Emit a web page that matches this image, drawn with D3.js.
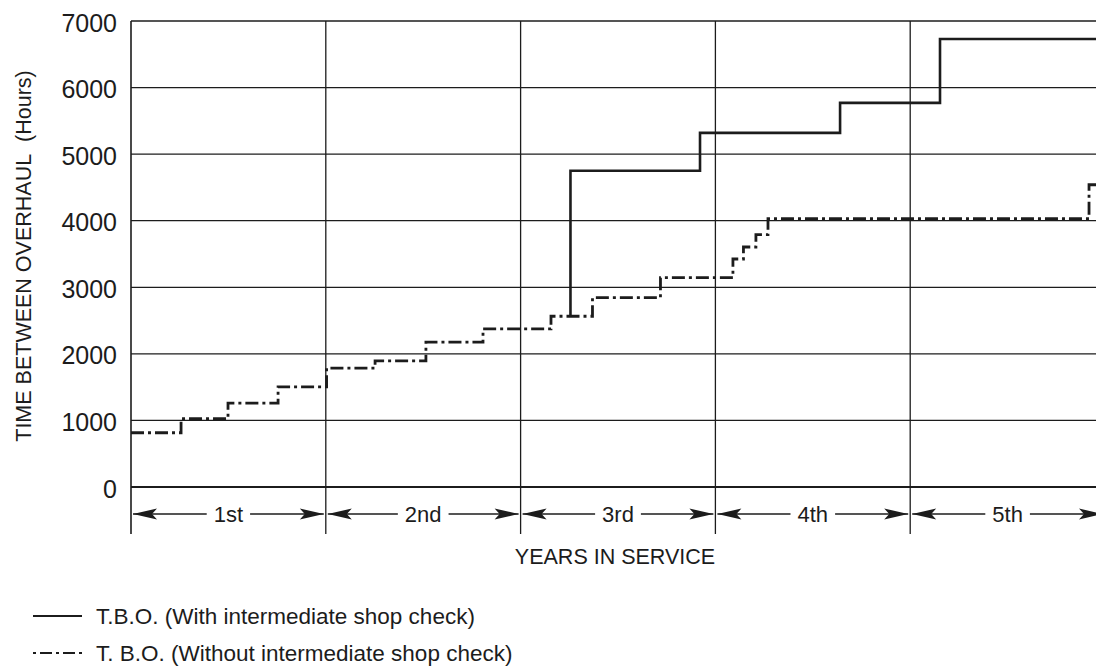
<!DOCTYPE html>
<html><head><meta charset="utf-8">
<script src="https://cdn.jsdelivr.net/npm/d3@7"></script>
<style>
html,body{margin:0;padding:0;background:#fff;}
svg{display:block;font-family:"Liberation Sans",Arial,sans-serif;}
</style></head>
<body>
<svg id="c" width="1096" height="669"></svg>
<script>
const yearLabels = ["1st","2nd","3rd","4th","5th"];
const yTicks = [0,1000,2000,3000,4000,5000,6000,7000];
const withYears  = [2.256, 2.256, 2.921, 3.640, 4.153, 5.0];
const withValues = [2565, 4750, 5320, 5770, 6730, 6730];
const withoutYears  = [0, 0.257, 0.498, 0.755, 1.004, 1.253, 1.514, 1.807, 2.156, 2.369, 2.718, 3.090, 3.144, 3.208, 3.270, 4.918, 5.0];
const withoutValues = [815, 1025, 1260, 1505, 1785, 1895, 2175, 2375, 2565, 2845, 3145, 3425, 3605, 3790, 4030, 4540, 4540];
const legendLabels = ["T.B.O. (With intermediate shop check)", "T. B.O. (Without intermediate shop check)"];

const svg = d3.select("#c");
const ink = "#1c1c1c";
const x = d3.scaleLinear().domain([0,5]).range([131,1105]);
const y = d3.scaleLinear().domain([0,7000]).range([487,21]);

// grid
const g = svg.append("g");
g.selectAll(".hg").data(yTicks).join("line")
  .attr("x1", x(0)).attr("x2", 1096)
  .attr("y1", d=>y(d)).attr("y2", d=>y(d))
  .attr("stroke", ink).attr("stroke-width", d=> d===0 ? 2 : 1.3);
g.selectAll(".vg").data(d3.range(0,6)).join("line")
  .attr("x1", d=>x(d)).attr("x2", d=>x(d))
  .attr("y1", y(7000)).attr("y2", d=> y(0)+47)
  .attr("stroke", ink).attr("stroke-width", d=> d===0 ? 1.6 : 1.3);

// y tick labels
const yAxis = d3.axisLeft(y).tickValues(yTicks).tickSize(0).tickPadding(14).tickFormat(d3.format("d"));
const ya = svg.append("g").attr("transform", `translate(${x(0)},0)`).call(yAxis);
ya.select(".domain").remove();
ya.selectAll("text").attr("font-size", 25).attr("fill", ink)
  .attr("font-family", "Liberation Sans, Arial, sans-serif").attr("dy", "0.4em");

// y title
svg.append("text").attr("transform", `translate(31,${(y(0)+y(7000))/2 + 2}) rotate(-90)`)
  .attr("text-anchor","middle").attr("font-size", 21.5).attr("fill", ink)
  .text("TIME BETWEEN OVERHAUL\u00A0\u00A0(Hours)");

// year arrows
const ay = 514;
function arrow(tipX, dir){
  const L = 24, H = 5.5;
  return `M${tipX},${ay} L${tipX+dir*L},${ay-H} L${tipX+dir*(L-5)},${ay} L${tipX+dir*L},${ay+H} Z`;
}
yearLabels.forEach((lab,i)=>{
  const x0 = x(i), x1 = x(i+1), xm = (x0+x1)/2;
  const t = svg.append("text").attr("x", xm).attr("y", ay+8).attr("text-anchor","middle")
    .attr("font-size", 22).attr("fill", ink).text(lab);
  const w = t.node().getComputedTextLength();
  svg.append("line").attr("x1", x0+2).attr("x2", xm-w/2-7).attr("y1", ay).attr("y2", ay)
    .attr("stroke", ink).attr("stroke-width", 1.3);
  svg.append("line").attr("x1", xm+w/2+7).attr("x2", x1-2).attr("y1", ay).attr("y2", ay)
    .attr("stroke", ink).attr("stroke-width", 1.3);
  svg.append("path").attr("d", arrow(x0+2, 1)).attr("fill", ink);
  svg.append("path").attr("d", arrow(x1-2, -1)).attr("fill", ink);
});

svg.append("text").attr("x", 615).attr("y", 564).attr("text-anchor","middle")
  .attr("font-size", 21.5).attr("fill", ink).text("YEARS IN SERVICE");

// series
const line = d3.line().x(d=>x(d[0])).y(d=>y(d[1])).curve(d3.curveStepAfter);
const withPts = withYears.map((v,i)=>[v, withValues[i]]);
const withoutPts = withoutYears.map((v,i)=>[v, withoutValues[i]]);
const dashDot = "13,4,3,4";
svg.append("path").attr("d", line(withoutPts)).attr("fill","none")
  .attr("stroke", ink).attr("stroke-width", 2.8).attr("stroke-dasharray", dashDot);
svg.append("path").attr("d", line(withPts)).attr("fill","none")
  .attr("stroke", ink).attr("stroke-width", 2.6);

// legend
const lg = svg.append("g");
legendLabels.forEach((lab,i)=>{
  const ly = 616 + i*37;
  lg.append("line").attr("x1", 33).attr("x2", 82).attr("y1", ly).attr("y2", ly)
    .attr("stroke", ink).attr("stroke-width", 2)
    .attr("stroke-dasharray", i===0 ? null : "3,4,12,4");
  lg.append("text").attr("x", 96).attr("y", ly+8).attr("font-size", 22.5).attr("fill", ink).text(lab);
});
</script>
</body></html>
